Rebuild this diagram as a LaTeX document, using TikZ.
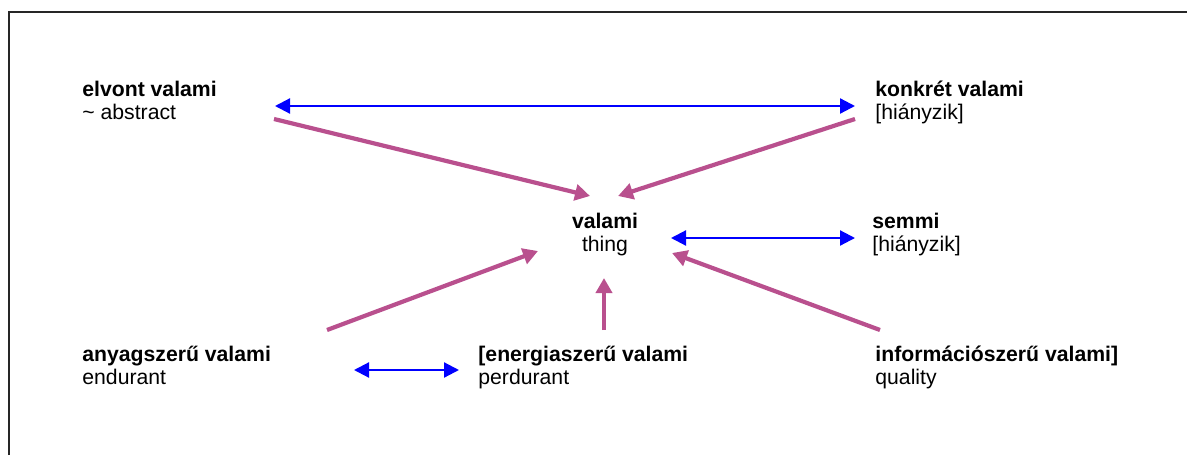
\documentclass[tikz,border=0pt]{standalone}
\usepackage{fontspec}
\setmainfont{Liberation Sans}
\usepackage{xcolor}
\usetikzlibrary{arrows.meta}
\definecolor{relblue}{RGB}{0,0,255}
\definecolor{relpink}{RGB}{185,80,142}

\begin{document}
\begin{tikzpicture}
        [x = 0.5pt, y = -0.5pt,
        every node/.style = {inner sep = 0, font = {\fontsize{10.6}{12}\selectfont}},
        title/.style = {anchor = base west, font = {\fontsize{10.6}{12}\selectfont\bfseries}},
        gloss/.style = {anchor = base west},
        pair/.style = {relblue, line width = 1.1pt,
            {Triangle[length = 7.5pt, width = 7.5pt]}-{Triangle[length = 7.5pt, width = 7.5pt]}},
        isa/.style = {relpink, line width = 2.1pt, -{Triangle[length = 7.5pt, width = 8pt]}}]
        \useasboundingbox (0, 0) rectangle (1187, 455);
        \draw[line width = 0.8pt, black!85] (9, 455) -- (9, 12) -- (1187, 12);
        % concepts
        \node[title] (elvont) at (82, 96) {elvont valami};
        \node[gloss] (abstract) at ([yshift = -11.5pt]elvont.base west) {\textasciitilde{} abstract};
        \node[title] (konkret) at (875, 96) {konkrét valami};
        \node[gloss] (konkretgap) at ([yshift = -11.5pt]konkret.base west) {[hiányzik]};
        \node[title, anchor = base] (valami) at (605, 228) {valami};
        \node[gloss, anchor = base] (thing) at ([yshift = -11.5pt]valami.base) {thing};
        \node[title] (semmi) at (872, 228) {semmi};
        \node[gloss] (semmigap) at ([yshift = -11.5pt]semmi.base west) {[hiányzik]};
        \node[title] (anyag) at (82, 361) {anyagszerű valami};
        \node[gloss] (endurant) at ([yshift = -11.5pt]anyag.base west) {endurant};
        \node[title] (energia) at (478, 361) {[energiaszerű valami};
        \node[gloss] (perdurant) at ([yshift = -11.5pt]energia.base west) {perdurant};
        \node[title] (info) at (875, 361) {információszerű valami]};
        \node[gloss] (quality) at ([yshift = -11.5pt]info.base west) {quality};
        % arrow ends
        \coordinate (elvontR) at (275, 106);
        \coordinate (konkretL) at (855, 106);
        \coordinate (elvontD) at (274, 119);
        \coordinate (konkretD) at (855, 119);
        \coordinate (valamiNW) at (590, 196);
        \coordinate (valamiNE) at (618, 196);
        \coordinate (valamiR) at (671, 238);
        \coordinate (semmiL) at (855, 238);
        \coordinate (anyagU) at (327, 330);
        \coordinate (energiaU) at (604, 330);
        \coordinate (infoU) at (880, 330);
        \coordinate (valamiSW) at (538, 251);
        \coordinate (valamiS) at (604, 278);
        \coordinate (valamiSE) at (672, 253);
        \coordinate (anyagR) at (354, 370);
        \coordinate (energiaL) at (459, 370);
        \draw[pair] (elvontR) -- (konkretL);
        \draw[pair] (valamiR) -- (semmiL);
        \draw[pair] (anyagR) -- (energiaL);
        \draw[isa] (elvontD) -- (valamiNW);
        \draw[isa] (konkretD) -- (valamiNE);
        \draw[isa] (anyagU) -- (valamiSW);
        \draw[isa] (energiaU) -- (valamiS);
        \draw[isa] (infoU) -- (valamiSE);
    \end{tikzpicture}
\end{document}
